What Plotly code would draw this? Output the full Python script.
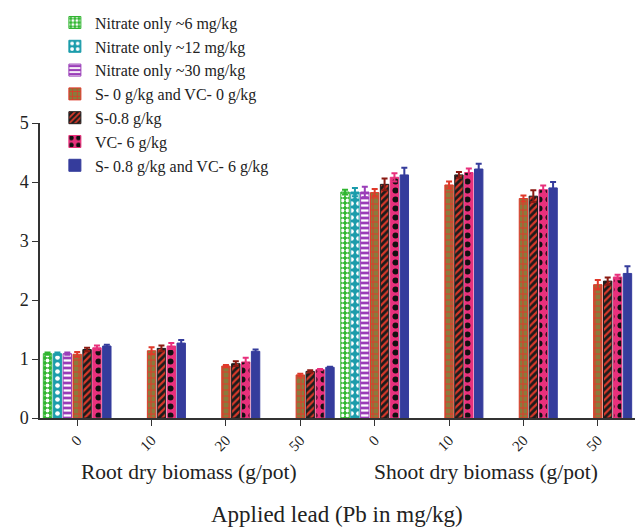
import plotly.graph_objects as go

# x positions: 4 lead levels for root, then 4 for shoot
positions = [0, 1, 2, 3, 4, 5, 6, 7]
tick_labels = ["0", "10", "20", "50", "0", "10", "20", "50"]

names = [
    "Nitrate only ~6 mg/kg",
    "Nitrate only ~12 mg/kg",
    "Nitrate only ~30 mg/kg",
    "S- 0 g/kg and VC- 0 g/kg",
    "S-0.8 g/kg",
    "VC- 6 g/kg",
    "S- 0.8 g/kg and VC- 6 g/kg",
]

nitrate_6 = [1.09, None, None, None, 3.83, None, None, None]
nitrate_12 = [1.09, None, None, None, 3.83, None, None, None]
nitrate_30 = [1.09, None, None, None, 3.83, None, None, None]
s0_vc0 = [1.08, 1.14, 0.88, 0.73, 3.82, 3.95, 3.72, 2.26]
s08 = [1.16, 1.18, 0.92, 0.79, 3.96, 4.12, 3.76, 2.32]
vc6 = [1.19, 1.22, 0.95, 0.82, 4.08, 4.16, 3.87, 2.39]
s08_vc6 = [1.22, 1.27, 1.13, 0.86, 4.12, 4.22, 3.90, 2.45]

err_n6 = [0.02, None, None, None, 0.04, None, None, None]
err_n12 = [0.02, None, None, None, 0.07, None, None, None]
err_n30 = [0.02, None, None, None, 0.09, None, None, None]
err_s0 = [0.04, 0.06, 0.02, 0.02, 0.06, 0.06, 0.05, 0.08]
err_s08 = [0.03, 0.05, 0.04, 0.02, 0.10, 0.05, 0.10, 0.06]
err_vc6 = [0.04, 0.05, 0.07, 0.01, 0.07, 0.07, 0.07, 0.04]
err_both = [0.02, 0.05, 0.03, 0.01, 0.12, 0.09, 0.10, 0.12]

series = [nitrate_6, nitrate_12, nitrate_30, s0_vc0, s08, vc6, s08_vc6]
errors = [err_n6, err_n12, err_n30, err_s0, err_s08, err_vc6, err_both]

# (bar colour, pattern shape, pattern fg, pattern bg, pattern size, solidity)
styles = [
    ("#2fb52f", ".", "#ffffff", "#2fb52f", 5, 0.45),
    ("#1b9cab", ".", "#ffffff", "#1b9cab", 7, 0.35),
    ("#9a3db8", "-", "#ffffff", "#9a3db8", 5, 0.45),
    ("#e0392a", "+", "#e0392a", "#8a7b3c", 6, 0.3),
    ("#1c1c1c", "/", "#d8382a", "#1c1c1c", 5, 0.45),
    ("#e8307c", ".", "#111111", "#e8307c", 9, 0.35),
    ("#353c9c", "", None, None, None, None),
]
err_colors = ["#2fb52f", "#1b9cab", "#9a3db8", "#e0392a", "#8a1a12", "#e8307c", "#353c9c"]

fig = go.Figure()
for i, (name, vals, err) in enumerate(zip(names, series, errors)):
    col, shape, fg, bg, size, sol = styles[i]
    marker = dict(color=col, line=dict(color=col, width=1))
    if shape:
        marker["pattern"] = dict(shape=shape, fgcolor=fg, bgcolor=bg, size=size,
                                 solidity=sol, fillmode="replace")
    fig.add_trace(go.Bar(
        x=positions, y=vals, name=name, marker=marker,
        legendgroup=str(i),
        error_y=dict(type="data", array=err, visible=True, color=err_colors[i],
                     thickness=2, width=3),
    ))

fig.update_layout(
    barmode="group",
    bargap=0.07,
    bargroupgap=0.15,
    width=640, height=530,
    margin=dict(l=40, r=5, t=119, b=112),
    paper_bgcolor="white", plot_bgcolor="white",
    font=dict(family="Liberation Serif", size=18, color="#222222"),
    legend=dict(x=0.025, y=1.398, xanchor="left", yanchor="top",
                font=dict(size=16), tracegroupgap=0, bgcolor="rgba(0,0,0,0)",
                itemwidth=30),
    showlegend=True,
)
fig.update_xaxes(
    tickmode="array", tickvals=positions, ticktext=tick_labels,
    tickangle=-45, tickfont=dict(size=15),
    range=[-0.5, 7.5], automargin=False,
    showline=True, linecolor="#333333", linewidth=1.5,
    ticks="outside", ticklen=6, tickcolor="#333333",
    showgrid=False, zeroline=False,
)
fig.update_yaxes(
    range=[0, 5], dtick=1, automargin=False,
    showline=True, linecolor="#333333", linewidth=1.5,
    ticks="outside", ticklen=6, tickcolor="#333333",
    showgrid=False, zeroline=False,
)

fig.add_annotation(text="Root dry biomass (g/pot)", xref="paper", yref="paper",
                   x=0.25, y=-0.184, xanchor="center", yanchor="middle",
                   showarrow=False, font=dict(size=21.5))
fig.add_annotation(text="Shoot dry biomass (g/pot)", xref="paper", yref="paper",
                   x=0.75, y=-0.184, xanchor="center", yanchor="middle",
                   showarrow=False, font=dict(size=21.5))
fig.add_annotation(text="Applied lead (Pb in mg/kg)", xref="paper", yref="paper",
                   x=0.499, y=-0.327, xanchor="center", yanchor="middle",
                   showarrow=False, font=dict(size=23))

# drop the default page margin so the figure sits at the window corner
fig.write_html("out.html", config={"displayModeBar": False},
               post_script="document.body.style.margin='0px';")
